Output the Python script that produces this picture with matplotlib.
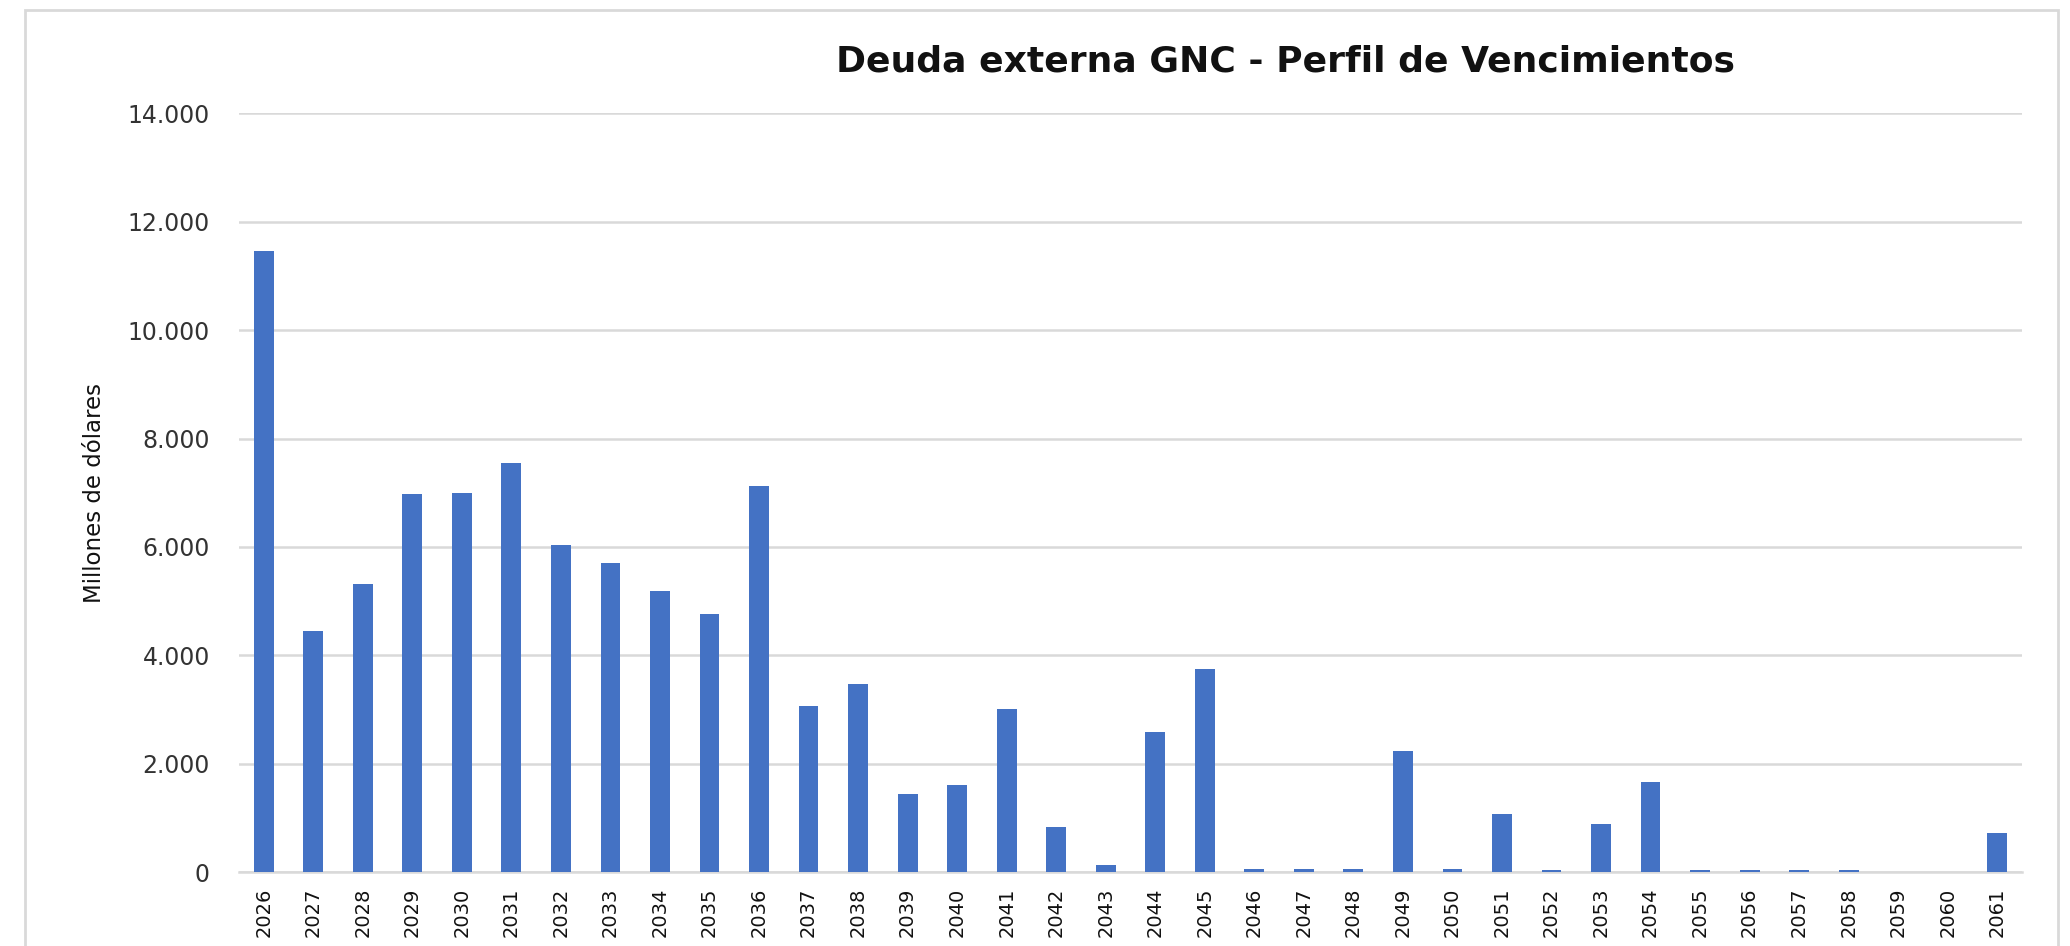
import matplotlib
matplotlib.use('Agg')
import matplotlib.pyplot as plt
from matplotlib.patches import Rectangle
from matplotlib.ticker import FuncFormatter

years = [str(y) for y in range(2026, 2062)]
deuda = [11470, 4450, 5320, 6975, 7000, 7545, 6035, 5700, 5190, 4765,
         7130, 3070, 3465, 1445, 1610, 3000, 825, 120, 2575, 3755,
         60, 60, 60, 2240, 60, 1065, 35, 880, 1670, 30,
         30, 30, 30, 0, 0, 725]
yticks = [0, 2000, 4000, 6000, 8000, 10000, 12000, 14000]

fig = plt.figure(figsize=(20.7, 9.46), dpi=100)
ax = fig.add_axes([239/2070, 1-872/946, (2022-239)/2070, (872-113.5)/946])

x = range(len(years))
ax.bar(x, deuda, width=0.40, color='#4472C4', zorder=3)

ax.set_xlim(-0.5, len(years)-0.5)
ax.set_ylim(0, 14000)
ax.set_yticks(yticks)
ax.yaxis.set_major_formatter(FuncFormatter(lambda v, p: f'{int(v):,}'.replace(',', '.')))
ax.set_xticks(list(x))
ax.set_xticklabels(years, rotation=90, fontsize=14, color='#111111')
for lab in ax.get_yticklabels():
    lab.set_fontsize(17)
    lab.set_color('#333333')
ax.tick_params(axis='y', length=0, pad=21)
ax.tick_params(axis='x', length=0, pad=11)

ax.grid(axis='y', color='#D9D9D9', linewidth=1.8, zorder=0)
for s in ['top', 'right', 'left']:
    ax.spines[s].set_visible(False)
ax.spines['bottom'].set_color('#D9D9D9')
ax.spines['bottom'].set_linewidth(1.8)

ax.set_ylabel('Millones de dólares', fontsize=16.5, color='#111111')
ax.yaxis.set_label_coords((106-239)/1783, 0.5)

fig.text(1285/2070, 1-62/946, 'Deuda externa GNC - Perfil de Vencimientos',
         ha='center', va='center', fontsize=26, fontweight='bold', color='#111111')

# marco gris del gráfico
fig.patches.append(Rectangle((25/2070, -0.02), (2058-25)/2070, 1.02-10/946,
                             transform=fig.transFigure, fill=False,
                             edgecolor='#D9D9D9', linewidth=2))

fig.savefig('out.png', dpi=100, facecolor='white')
